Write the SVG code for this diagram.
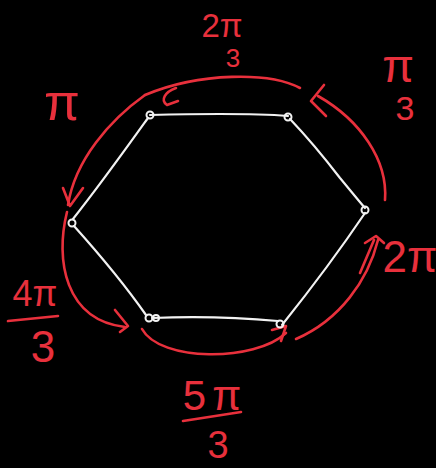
<svg xmlns="http://www.w3.org/2000/svg" width="436" height="468" viewBox="0 0 436 468">
<style>
.edge{fill:none;stroke:#f2f2f2;stroke-width:2.2;stroke-linecap:round;stroke-linejoin:round}
.v{fill:none;stroke:#f2f2f2;stroke-width:2}
.arc{fill:none;stroke:#e8303c;stroke-width:2.6;stroke-linecap:round;stroke-linejoin:round}
.lbl{fill:#e8303c;font-family:"Liberation Sans","DejaVu Sans",sans-serif;text-anchor:middle}
</style>
<rect width="436" height="468" fill="#000"/>
<g id="connectors">
  <path class="edge" d="M150,115 C190,114 250,113 288,116"/>
  <path class="edge" d="M290,119 C310,140 330,165 340,178 C350,190 358,200 365,208"/>
  <path class="edge" d="M365,213 C340,250 310,290 282,325"/>
  <path class="edge" d="M152,318 C200,316 245,318 278,321"/>
  <path class="edge" d="M74,226 C100,255 125,285 146,315"/>
  <path class="edge" d="M73,219 C100,185 125,150 148,118"/>
  <path class="arc" d="M385,200 C388,160 360,120 318,96"/>
  <path class="arc" d="M324,85 L311,101 L326,116"/>
  <path class="arc" d="M300,88 C270,72 200,72 145,95"/>
  <path class="arc" d="M176,88 C165,92 160,100 167,105 L178,101"/>
  <path class="arc" d="M145,95 C110,120 75,160 68,205"/>
  <path class="arc" d="M63,188 L70,206 L83,188"/>
  <path class="arc" d="M67,212 C55,260 65,320 125,327"/>
  <path class="arc" d="M115,310 L128,326 L120,332"/>
  <path class="arc" d="M142,329 C160,362 255,362 286,333"/>
  <path class="arc" d="M272,330 L286,326 L281,341"/>
  <path class="arc" d="M296,339 C340,320 368,280 378,240"/>
  <path class="arc" d="M360,273 L374,240"/>
  <path class="arc" d="M365,243 L376,236 L384,243"/>
</g>
<g id="v1"><circle class="v" cx="150" cy="115" r="3.5"/></g>
<g id="v2"><circle class="v" cx="288" cy="117" r="3.5"/></g>
<g id="v3"><circle class="v" cx="365" cy="210" r="3.5"/></g>
<g id="v4"><circle class="v" cx="280" cy="324" r="3.5"/></g>
<g id="v5"><circle class="v" cx="149" cy="318" r="3.5"/><circle class="v" cx="156" cy="318" r="3"/></g>
<g id="v6"><circle class="v" cx="72" cy="223" r="3.5"/></g>
<g id="labels">
  <text class="lbl" x="222" y="37" font-size="33">2π</text>
  <text class="lbl" x="233" y="67" font-size="26">3</text>
  <text class="lbl" x="398" y="82" font-size="46">π</text>
  <text class="lbl" x="405" y="120" font-size="34">3</text>
  <text class="lbl" x="62" y="120" font-size="52">π</text>
  <text class="lbl" x="35" y="306" font-size="36">4π</text>
  <path class="arc" d="M8,321 L58,316"/>
  <text class="lbl" x="43" y="362" font-size="44">3</text>
  <text class="lbl" x="410" y="272" font-size="44">2π</text>
  <text class="lbl" x="215" y="410" font-size="42" letter-spacing="6">5π</text>
  <path class="arc" d="M183,421 L241,412"/>
  <text class="lbl" x="218" y="458" font-size="38">3</text>
</g>
</svg>
